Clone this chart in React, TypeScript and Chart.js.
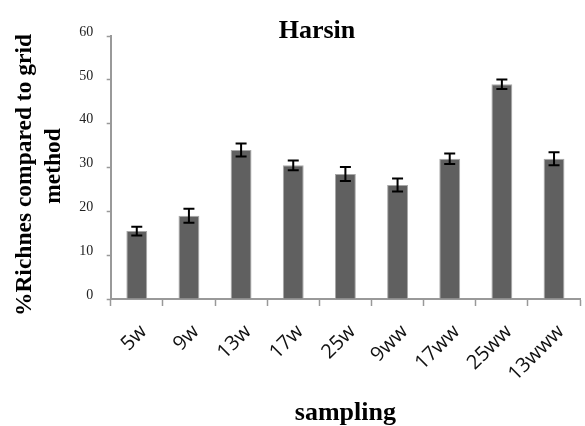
import React, { useEffect, useRef } from "react";
import { Chart, registerables } from "chart.js";

Chart.register(...registerables);

const categories = ["5w", "9w", "13w", "17w", "25w", "9ww", "17ww", "25ww", "13www"];
const values = [15.5, 19, 34, 30.5, 28.5, 26, 32, 49, 32];
const errors = [1, 1.6, 1.5, 1.1, 1.6, 1.5, 1.2, 1.1, 1.5];
const yTicks = [0, 10, 20, 30, 40, 50, 60];
const chartTitle = "Harsin";
const yTitle = ["%Richnes compared to grid", "method"];
const xTitle = "sampling";

const SERIF = "'Liberation Serif', 'Times New Roman', serif";

const errorBarPlugin = {
  id: "errorBars",
  afterDatasetsDraw(chart: any) {
    const meta = chart.getDatasetMeta(0);
    const y = chart.scales.y;
    const ctx = chart.ctx;
    ctx.save();
    ctx.strokeStyle = "#000";
    ctx.lineWidth = 2;
    meta.data.forEach((bar: any, i: number) => {
      const v = values[i];
      const e = errors[i];
      const x = bar.x;
      const yt = y.getPixelForValue(v + e);
      const yb = y.getPixelForValue(v - e);
      const cap = 5.5;
      ctx.beginPath();
      ctx.moveTo(x, yt);
      ctx.lineTo(x, yb);
      ctx.moveTo(x - cap, yt);
      ctx.lineTo(x + cap, yt);
      ctx.moveTo(x - cap, yb);
      ctx.lineTo(x + cap, yb);
      ctx.stroke();
    });
    ctx.restore();
  },
};

const titlePlugin = {
  id: "customTitles",
  afterDraw(chart: any) {
    const ctx = chart.ctx;
    ctx.save();
    ctx.font = `bold 26px ${SERIF}`;
    ctx.fillStyle = "#000";
    ctx.textAlign = "center";
    ctx.textBaseline = "alphabetic";
    ctx.fillText(chartTitle, 317, 38);
    ctx.restore();

    const lines = [
      { text: yTitle[0], x: 31, y: 175 },
      { text: yTitle[1], x: 60, y: 166 },
    ];
    lines.forEach((l) => {
      ctx.save();
      ctx.translate(l.x, l.y);
      ctx.rotate(-Math.PI / 2);
      ctx.font = `bold 23.5px ${SERIF}`;
      ctx.fillStyle = "#000";
      ctx.textAlign = "center";
      ctx.textBaseline = "alphabetic";
      ctx.fillText(l.text, 0, 0);
      ctx.restore();
    });
  },
};

export default function App() {
  const ref = useRef<HTMLCanvasElement>(null);
  useEffect(() => {
    if (!ref.current) return;
    const chart = new Chart(ref.current, {
      type: "bar",
      data: {
        labels: categories,
        datasets: [
          {
            data: values,
            backgroundColor: "#606060",
            borderColor: "#a8a8a8",
            borderWidth: 1,
            barPercentage: 0.8,
            categoryPercentage: 0.5,
          },
        ],
      },
      options: {
        animation: false,
        responsive: false,
        layout: { padding: { top: 36, right: 0, left: 0, bottom: 0 } },
        plugins: {
          legend: { display: false },
          tooltip: { enabled: false },
          title: { display: false },
        },
        scales: {
          x: {
            offset: true,
            grid: {
              offset: true,
              drawOnChartArea: false,
              drawTicks: true,
              tickLength: 7,
              tickColor: "#999",
              tickWidth: 1.5,
            },
            border: { color: "#999", width: 2 },
            ticks: {
              minRotation: 45,
              maxRotation: 45,
              autoSkip: false,
              padding: 14,
              labelOffset: 7,
              color: "#111",
              font: { family: "'Open Sans', sans-serif", size: 20 },
            },
            title: {
              display: true,
              text: xTitle,
              color: "#000",
              font: { family: SERIF, size: 26, weight: "bold", lineHeight: 1.0 },
              padding: { top: 0, bottom: 0 },
            },
            afterFit: (s: any) => {
              s.height = 127;
            },
          },
          y: {
            min: 0,
            max: 60,
            afterBuildTicks: (s: any) => {
              s.ticks = yTicks.map((v) => ({ value: v }));
            },
            grid: {
              drawOnChartArea: false,
              drawTicks: true,
              tickLength: 4,
              tickColor: "#999",
              tickWidth: 1.5,
            },
            border: { color: "#999", width: 2 },
            ticks: {
              padding: 13.5,
              labelOffset: -4,
              color: "#222",
              font: { family: SERIF, size: 14 },
            },
            title: { display: false },
            afterFit: (s: any) => {
              s.width = 110.7;
            },
          },
        },
      } as any,
      plugins: [errorBarPlugin, titlePlugin],
    });
    return () => chart.destroy();
  }, []);
  return (
    <div style={{ position: "absolute", left: 0, top: 0, width: 585, height: 426, background: "#fff" }}>
      <canvas ref={ref} width={585} height={426} style={{ width: 585, height: 426 }} />
    </div>
  );
}
